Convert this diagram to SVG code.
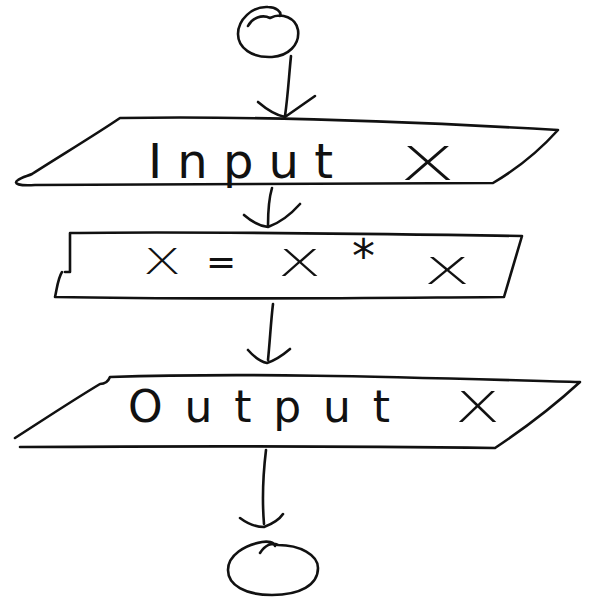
<svg xmlns="http://www.w3.org/2000/svg" width="600" height="600" viewBox="0 0 600 600">
<style>
.s{fill:none;stroke:#111;stroke-width:2.6;stroke-linecap:round;stroke-linejoin:round}
.t{font-family:"DejaVu Sans",sans-serif;fill:#111}
.x{font-weight:300}
</style>
<rect width="600" height="600" fill="#fff"/>
<g id="start">
<path class="s" d="M248,26 C252,18 262,14 270,18 C282,12 296,18 298,30 C300,45 288,56 272,57 C252,58 238,48 238,34 C238,20 252,6 268,7 C276,7 282,12 280,16"/>
</g>
<g id="input">
<path class="s" d="M120,118 C250,116 420,122 558,130 C540,150 515,170 493,183 C350,184 180,184 35,185 C20,186 12,184 18,180 C22,177 28,176 32,174 C60,156 95,135 120,118 Z"/>
<text class="t" x="148" y="178" font-size="48" textLength="185" lengthAdjust="spacing">Input</text>
<text class="t x" x="400" y="180" font-size="46" textLength="55" lengthAdjust="spacingAndGlyphs">X</text>
</g>
<g id="process">
<path class="s" d="M70,233 C200,231 380,234 522,236 C516,256 510,276 504,297 C360,298 200,300 55,297 C57,288 58,278 62,272 M70,233 L70,272 L65,272"/>
<text class="t x" x="143" y="274" font-size="36" textLength="38" lengthAdjust="spacingAndGlyphs">X</text>
<text class="t" x="206" y="274" font-size="36">=</text>
<text class="t x" x="278" y="276" font-size="38" textLength="43" lengthAdjust="spacingAndGlyphs">X</text>
<text class="t" x="352" y="272" font-size="46">*</text>
<text class="t x" x="424" y="284" font-size="38" textLength="46" lengthAdjust="spacingAndGlyphs">X</text>
</g>
<g id="output">
<path class="s" d="M110,377 C260,372 430,378 580,382 C555,405 525,428 495,448 C350,446 180,446 20,447 M110,377 C108,382 104,384 100,384 C70,402 40,422 15,438"/>
<text class="t" x="128" y="422" font-size="44" textLength="262" lengthAdjust="spacing">Output</text>
<text class="t x" x="455" y="422" font-size="42" textLength="45" lengthAdjust="spacingAndGlyphs">X</text>
</g>
<g id="end">
<path class="s" d="M260,553 C265,545 272,542 278,545 C300,545 318,555 318,568 C318,585 300,595 272,595 C245,595 228,585 228,570 C228,555 245,545 262,542 C268,541 274,542 275,546"/>
</g>
<g id="connectors">
<path class="s" d="M291,56 C289,75 288,95 285,116 M258,102 C265,108 275,115 285,117 C295,110 305,103 315,96"/>
<path class="s" d="M272,188 C269,198 268,212 268,226 M244,215 C252,222 260,226 268,227 C282,222 292,213 300,204"/>
<path class="s" d="M273,304 C271,320 270,340 268,360 M248,350 C255,358 262,362 267,363 C276,360 283,355 290,349"/>
<path class="s" d="M266,450 C263,475 262,500 264,524 M240,518 C248,524 256,527 264,527 C272,524 279,520 283,514"/>
</g>
</svg>
